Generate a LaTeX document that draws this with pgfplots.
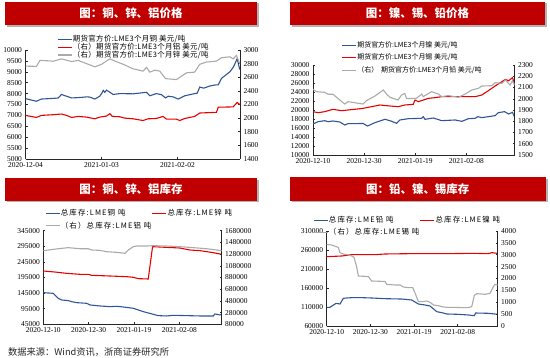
\documentclass[border=0pt]{standalone}
\usepackage{pgfplots}
\pgfplotsset{compat=1.18}
\usepackage{fontspec}
\setmainfont{Liberation Serif}
\newfontfamily\cjk{Noto Sans CJK SC}
\newfontfamily\cjkl[LetterSpace=15]{Noto Sans CJK SC}
\newfontfamily\cjka[LetterSpace=4]{Noto Sans CJK SC}
\definecolor{cblue}{RGB}{47,85,151}
\definecolor{cred}{RGB}{230,0,0}
\definecolor{cgray}{RGB}{170,170,170}
\definecolor{banner}{RGB}{192,0,0}
\pgfplotsset{
  panel/.style={scale only axis, xmin=0,
    axis line style={line width=0.6pt, black!85},
    tick style={line width=0.5pt, black!85},
    tick align=inside, major tick length=2bp,
    scaled y ticks=false, scaled x ticks=false,
    /pgf/number format/assume math mode=true,
    /pgf/number format/fixed,
    /pgf/number format/1000 sep={},
    tick label style={font=\fontsize{7.5}{8}\selectfont},
  },
  leftax/.style={panel, axis y line*=left, axis x line*=bottom},
  rightax/.style={panel, axis y line*=right, axis x line=none},
  ser/.style={line width=1.1pt, no markers},
  legsty/.style={legend cell align=left,
    legend image code/.code={\draw (0bp,0bp) -- (14bp,0bp);},
    legend style={draw=none, fill=none, inner sep=0pt, anchor=north west,
      font=\cjkl\fontsize{7.5}{8}\selectfont,
      nodes={inner sep=0.6bp, text height=5.5bp, text depth=1bp}}},
}
\newcommand{\you}{（右）}
\begin{document}
\begin{tikzpicture}
\useasboundingbox (0,0) rectangle (550bp,358bp);
% banners
\fill[black!30] (6.8bp,331.2bp) rectangle (258.8bp,354.5bp);
\fill[banner] (5bp,333bp) rectangle (257bp,356.3bp);
\node[white, font=\cjk\bfseries\fontsize{11.5}{12}\selectfont] at (131bp,344.7bp) {图：铜、锌、铝价格};
\fill[black!30] (291.8bp,331.2bp) rectangle (546.8bp,354.5bp);
\fill[banner] (290bp,333bp) rectangle (545bp,356.3bp);
\node[white, font=\cjk\bfseries\fontsize{11.5}{12}\selectfont] at (417.5bp,344.7bp) {图：镍、锡、铅价格};
\fill[black!30] (6.8bp,155.5bp) rectangle (258.8bp,178bp);
\fill[banner] (5bp,157.3bp) rectangle (257bp,179.7bp);
\node[white, font=\cjk\bfseries\fontsize{11.5}{12}\selectfont] at (131bp,168.5bp) {图：铜、锌、铝库存};
\fill[black!30] (291.8bp,155.5bp) rectangle (547.5bp,179bp);
\fill[banner] (290bp,157.3bp) rectangle (545.7bp,180.7bp);
\node[white, font=\cjk\bfseries\fontsize{11.5}{12}\selectfont] at (417.8bp,169bp) {图：铅、镍、锡库存};
\node[anchor=west, font=\cjk\fontsize{9.3}{10}\selectfont, text=black!85] at (4.5bp,6bp) {数据来源：Wind资讯，浙商证券研究所};

% ---------- Panel 1 ----------
\begin{axis}[leftax, at={(25.5bp,199bp)}, anchor=south west, width=214.5bp, height=109bp,
  xmax=84.7, ymin=5000, ymax=10000,
  ytick={5000,5500,6000,6500,7000,7500,8000,8500,9000,9500,10000},
  xtick={0,30,60}, xticklabels={2020-12-04,2021-01-03,2021-02-02}]
\addplot[ser, cblue] coordinates {(0,7770)(2.4,7700)(4.3,7650)(6.3,7750)(10.9,7780)(12.9,7800)(14.2,7960)(16.2,7880)(18.2,7800)(21.4,7820)(24.1,7850)(25.4,7840)(27.4,7750)(29.3,7880)(30.0,7990)(30.7,8150)(31.3,8060)(32.0,8160)(34.6,7960)(37.2,8000)(42.5,7990)(47.8,8060)(49.1,7900)(51.7,8000)(53.7,7950)(55.3,7800)(56.3,7880)(58.3,7850)(60.3,7750)(62.9,7900)(66.8,8000)(67.8,8020)(68.8,8300)(70.4,8250)(72.8,8350)(75.1,8400)(76.1,8400)(77.4,8700)(80.7,9000)(82.0,9200)(83.6,9600)(84.6,9100)};
\end{axis}
\begin{axis}[rightax, at={(25.5bp,199bp)}, anchor=south west, width=214.5bp, height=109bp,
  xmax=84.7, ymin=1400, ymax=3000,
  ytick={1400,1600,1800,2000,2200,2400,2600,2800,3000},
  legsty, legend style={at={(0.147,1.136)}, row sep=0.2bp, font=\cjka\fontsize{7.5}{8}\selectfont}]
\addlegendimage{ser, cblue}\addlegendentry{期货官方价:LME3个月铜 美元/吨}
\addplot[ser, cred] coordinates {(0,2040)(4.3,2010)(6.3,2040)(10.9,2050)(14.2,2060)(16.2,2040)(18.2,2010)(20.8,2025)(24.1,2015)(27.4,1990)(29.3,2015)(32.0,2030)(33.3,2065)(34.3,2025)(37.2,2020)(39.2,2000)(42.5,1990)(46.4,1965)(48.4,1990)(51.7,1995)(54.3,2025)(55.7,1985)(59.6,1985)(60.9,1965)(62.9,1995)(66.8,2025)(68.8,2075)(75.4,2085)(76.1,2160)(82.0,2165)(83.6,2230)(84.6,2200)};
\addlegendentry{\you 期货官方价:LME3个月铝 美元/吨}
\addplot[ser, cgray] coordinates {(0,2763)(4.3,2760)(5.7,2847)(9.6,2840)(10.9,2835)(14.2,2870)(16.2,2850)(18.2,2830)(20.8,2847)(24.1,2800)(27.4,2753)(30.0,2790)(33.3,2870)(35.3,2837)(38.6,2790)(42.5,2724)(46.4,2690)(47.8,2745)(49.1,2675)(51.1,2704)(53.0,2690)(55.3,2580)(59.6,2566)(63.6,2665)(66.8,2675)(68.8,2790)(71.4,2823)(75.4,2837)(77.4,2887)(80.7,2900)(82.0,2870)(83.3,2920)(84.6,2800)};
\addlegendentry{\you 期货官方价:LME3个月锌 美元/吨}
\end{axis}

% ---------- Panel 2 ----------
\begin{axis}[leftax, at={(313bp,203bp)}, anchor=south west, width=201.5bp, height=90bp,
  xmax=78.8, ymin=10000, ymax=30000,
  ytick={10000,12000,14000,16000,18000,20000,22000,24000,26000,28000,30000},
  xtick={0,20,40,60}, xticklabels={2020-12-10,2020-12-30,2021-01-19,2021-02-08},
  legsty, legend style={at={(0.141,1.264)}, row sep=4.7bp, font=\cjk\fontsize{7}{8}\selectfont}]
\addplot[ser, cblue] coordinates {(0,16900)(2.0,17400)(4.6,17630)(5.9,17400)(7.8,17560)(10.5,17330)(12.4,16670)(13.7,16960)(19.6,17000)(21.3,16440)(24.2,17180)(28.1,17930)(30.1,17630)(32.7,17040)(34.0,17780)(37.3,18070)(42.5,18150)(43.1,18520)(43.8,17930)(47.1,18220)(50.3,17630)(55.6,17780)(58.2,17480)(60.8,18070)(63.4,18150)(64.4,18520)(66.0,18300)(71.2,18740)(72.5,19410)(74.9,19630)(76.5,19110)(78.0,19480)(78.8,18520)};
\addlegendentry{期货官方价:LME3个月镍 美元/吨}
\addplot[ser, cred] coordinates {(0,19630)(2.0,19400)(4.6,19630)(7.8,20150)(11.1,19850)(16.3,20150)(19.6,20370)(22.9,20740)(26.1,21110)(30.1,20890)(33.3,20740)(35.9,21110)(39.2,21260)(39.9,22220)(41.2,21850)(45.1,22590)(47.7,22740)(50.3,22960)(56.9,22960)(63.4,22960)(66.0,23330)(68.6,24300)(71.2,25330)(73.9,26300)(75.2,26800)(76.5,26500)(78.0,27190)(78.8,25930)};
\addlegendentry{期货官方价:LME3个月锡 美元/吨}
\addlegendimage{ser, cgray}\addlegendentry{\you\hspace{3bp}期货官方价:LME3个月铅 美元/吨}
\end{axis}
\begin{axis}[rightax, at={(313bp,203bp)}, anchor=south west, width=201.5bp, height=90bp,
  xmax=78.8, ymin=1500, ymax=2300,
  ytick={1500,1600,1700,1800,1900,2000,2100,2200,2300}]
\addplot[ser, cgray] coordinates {(0,2084)(1.3,2063)(4.6,2057)(5.9,2040)(7.8,2040)(10.5,1989)(12.4,1953)(13.7,1974)(19.6,1953)(20.9,1983)(24.2,2024)(27.5,2078)(28.8,2040)(30.1,2013)(33.3,1989)(34.6,2033)(35.9,2047)(36.6,2001)(40.5,2004)(42.5,2042)(43.1,2019)(46.4,2063)(49.0,2042)(50.3,2019)(52.9,2028)(56.9,2013)(59.5,2042)(62.1,2078)(64.7,2093)(66.0,2113)(69.9,2116)(71.2,2143)(73.9,2137)(75.2,2167)(77.1,2122)(78.0,2160)(78.8,2122)};
\end{axis}

% ---------- Panel 3 ----------
\begin{axis}[leftax, at={(43.3bp,33.7bp)}, anchor=south west, width=178.4bp, height=93.6bp,
  xmax=78.7, ymin=45000, ymax=345000,
  ytick={45000,95000,145000,195000,245000,295000,345000},
  xtick={0,20,40,60}, xticklabels={2020-12-10,2020-12-30,2021-01-19,2021-02-08}]
\addplot[ser, cblue] coordinates {(0,146400)(4.4,144300)(5.1,139000)(6.6,128300)(8.1,123000)(11.0,120800)(12.5,117600)(14.7,114400)(19.1,112300)(20.6,107000)(25.0,103700)(29.4,101600)(32.4,102700)(35.3,100500)(39.7,96300)(44.1,85600)(48.5,77000)(50.7,72800)(54.4,71700)(57.4,73800)(63.2,72800)(69.1,71700)(75.0,71700)(75.7,78100)(77.9,75000)(78.7,77000)};
\addplot[ser, cred] coordinates {(0,215800)(5.1,212600)(10.3,208300)(16.2,205200)(19.9,205200)(21.3,202000)(29.4,199800)(36.8,197700)(39.7,195600)(41.9,191300)(46.3,190200)(48.2,293800)(54.4,291600)(60.3,289500)(64.7,283100)(69.1,281000)(72.1,277800)(75.0,274600)(78.7,269200)};
\end{axis}
\begin{axis}[rightax, at={(43.3bp,33.7bp)}, anchor=south west, width=178.4bp, height=93.6bp,
  xmax=78.7, ymin=80000, ymax=1680000,
  ytick={80000,280000,480000,680000,880000,1080000,1280000,1480000,1680000},
  legsty, legend columns=2, legend style={at={(0.0095,1.226)}, row sep=4.5bp, column sep=0bp}]
\addlegendimage{ser, cblue}\addlegendentry{总库存:LME铜 吨}
\addlegendimage{ser, cred}\addlegendentry{总库存:LME锌 吨}
\addplot[ser, cgray] coordinates {(0,1338000)(4.4,1361000)(6.6,1372000)(11.0,1390000)(16.2,1372000)(19.9,1372000)(21.3,1350000)(25.0,1344000)(27.9,1321000)(32.4,1310000)(36.0,1293000)(37.5,1350000)(39.7,1407000)(41.2,1418000)(45.6,1418000)(48.5,1424000)(54.4,1418000)(60.3,1407000)(66.2,1390000)(72.1,1372000)(78.7,1338000)};
\addlegendentry{\you 总库存:LME铝 吨}
\end{axis}

% ---------- Panel 4 ----------
\begin{axis}[leftax, at={(326.7bp,32bp)}, anchor=south west, width=171bp, height=95bp,
  xmax=78.3, ymin=60000, ymax=310000,
  ytick={60000,110000,160000,210000,260000,310000},
  xtick={0,20,40,60}, xticklabels={2020-12-10,2020-12-30,2021-01-19,2021-02-08}]
\addplot[ser, cblue] coordinates {(0,109100)(1.5,109100)(3.1,115300)(4.3,119600)(6.1,117900)(7.6,132800)(9.2,133700)(11.5,134600)(16.0,134600)(20.6,133700)(26.7,131900)(34.4,131000)(38.9,128400)(40.2,124000)(42.0,117900)(45.0,115300)(47.3,112600)(50.4,97700)(52.7,95100)(55.0,91600)(60.3,90700)(64.9,89000)(67.6,87200)(68.2,94200)(74.0,93400)(78.3,90700)};
\addplot[ser, cred] coordinates {(0,242500)(6.9,244200)(11.5,247700)(22.1,247700)(26.7,249500)(37.4,250300)(52.7,250300)(67.9,251200)(74.0,250300)(75.6,253000)(78.3,251200)};
\end{axis}
\begin{axis}[rightax, at={(326.7bp,32bp)}, anchor=south west, width=171bp, height=95bp,
  xmax=78.3, ymin=0, ymax=4000,
  ytick={0,500,1000,1500,2000,2500,3000,3500,4000},
  legsty, legend columns=2, legend style={at={(-0.080,1.156)}, row sep=4.2bp, column sep=0bp}]
\addlegendimage{ser, cblue}\addlegendentry{总库存:LME铅 吨}
\addlegendimage{ser, cred}\addlegendentry{总库存:LME镍 吨}
\addplot[ser, cgray] coordinates {(0,3439)(2.3,3410)(5.3,3312)(6.1,3088)(7.6,3032)(9.9,2990)(11.5,2947)(12.5,2890)(13.7,2500)(14.5,2105)(17.6,2090)(19.1,2077)(20.6,1895)(25.2,1880)(26.7,1870)(27.5,1754)(31.3,1726)(33.6,1726)(35.1,1642)(37.4,1614)(39.4,1614)(40.5,1375)(42.0,1025)(43.5,1025)(45.8,1053)(47.3,1000)(48.9,884)(51.1,856)(52.7,814)(55.0,786)(58.8,786)(61.8,772)(64.6,772)(66.4,814)(67.6,1291)(68.7,1361)(71.0,1347)(72.5,1333)(74.8,1375)(76.3,1656)(77.1,1754)(78.3,1726)};
\addlegendentry{\you 总库存:LME锡 吨}
\end{axis}
\end{tikzpicture}
\end{document}
